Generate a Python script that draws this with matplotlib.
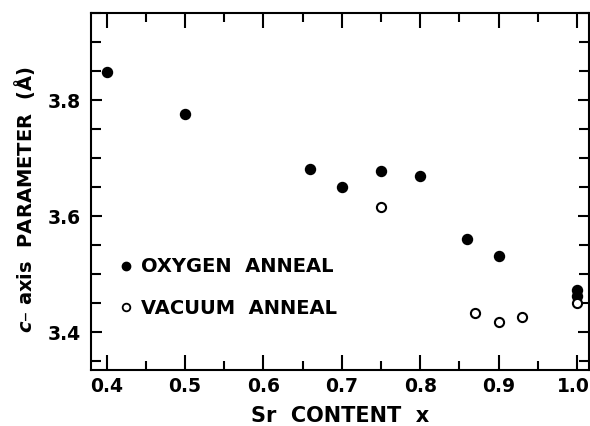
import matplotlib
matplotlib.use('Agg')
import matplotlib.pyplot as plt
from matplotlib.ticker import MultipleLocator
from matplotlib.lines import Line2D
from matplotlib.transforms import ScaledTranslation

# Sr content x and c-axis parameter (Angstrom)
oxygen_x = [0.40, 0.50, 0.66, 0.70, 0.75, 0.80, 0.86, 0.90, 1.00, 1.00]
oxygen_c = [3.848, 3.776, 3.681, 3.650, 3.678, 3.669, 3.560, 3.531, 3.473, 3.462]
vacuum_x = [0.75, 0.87, 0.90, 0.93, 1.00]
vacuum_c = [3.616, 3.433, 3.417, 3.426, 3.450]

x_ticks = [0.4, 0.5, 0.6, 0.7, 0.8, 0.9, 1.0]
x_tick_labels = ['0.4', '0.5', '0.6', '0.7', '0.8', '0.9', '1.0']
y_ticks = [3.4, 3.6, 3.8]
y_tick_labels = ['3.4', '3.6', '3.8']

plt.rcParams['font.family'] = ['DejaVu Sans']
plt.rcParams['font.weight'] = 'bold'
plt.rcParams['mathtext.fontset'] = 'dejavusans'

fig = plt.figure(figsize=(5.9, 4.26), dpi=100)
ax = fig.add_axes([0.154, 0.1315, 0.844, 0.838])

ax.plot(oxygen_x, oxygen_c, 'o', color='black', markersize=7.2, linestyle='none')
ax.plot(vacuum_x, vacuum_c, 'o', markerfacecolor='white', markeredgecolor='black',
        markeredgewidth=1.5, markersize=6.6, linestyle='none')

ax.set_xlim(0.38, 1.015)
ax.set_ylim(3.335, 3.95)

ax.set_xticks(x_ticks)
ax.set_xticklabels(x_tick_labels)
ax.set_yticks(y_ticks)
ax.set_yticklabels(y_tick_labels)
ax.xaxis.set_minor_locator(MultipleLocator(0.05))
ax.yaxis.set_minor_locator(MultipleLocator(0.05))

ax.tick_params(which='both', direction='in', top=True, right=True,
               labelsize=13.5, width=1.5, colors='black')
ax.tick_params(axis='x', which='major', length=11, pad=5)
ax.tick_params(axis='x', which='minor', length=6.5)
ax.tick_params(axis='y', which='major', length=8, pad=7)
ax.tick_params(axis='y', which='minor', length=7.5)
for s in ax.spines.values():
    s.set_linewidth(1.5)

# last label sits at the right edge, nudge it in a little
last = ax.get_xticklabels()[-1]
last.set_transform(last.get_transform() + ScaledTranslation(-4 / 100, 0, fig.dpi_scale_trans))

ax.set_xlabel('Sr  CONTENT  x', fontsize=15, fontweight='bold', labelpad=7)
ax.set_ylabel(r'$c$– axis  PARAMETER  (Å)', fontsize=14, fontweight='bold')
ax.yaxis.set_label_coords(-0.108, 0.476)

handles = [
    Line2D([], [], marker='o', color='black', linestyle='none', markersize=6),
    Line2D([], [], marker='o', markerfacecolor='white', markeredgecolor='black',
           markeredgewidth=1.3, linestyle='none', markersize=5.5),
]
ax.legend(handles, ['OXYGEN  ANNEAL', 'VACUUM  ANNEAL'], loc='center left',
          bbox_to_anchor=(0.05, 0.231), frameon=False, fontsize=14,
          handlelength=1.05, handletextpad=0.25, labelspacing=1.15,
          borderpad=0, borderaxespad=0)

fig.savefig('out.png', dpi=100)
